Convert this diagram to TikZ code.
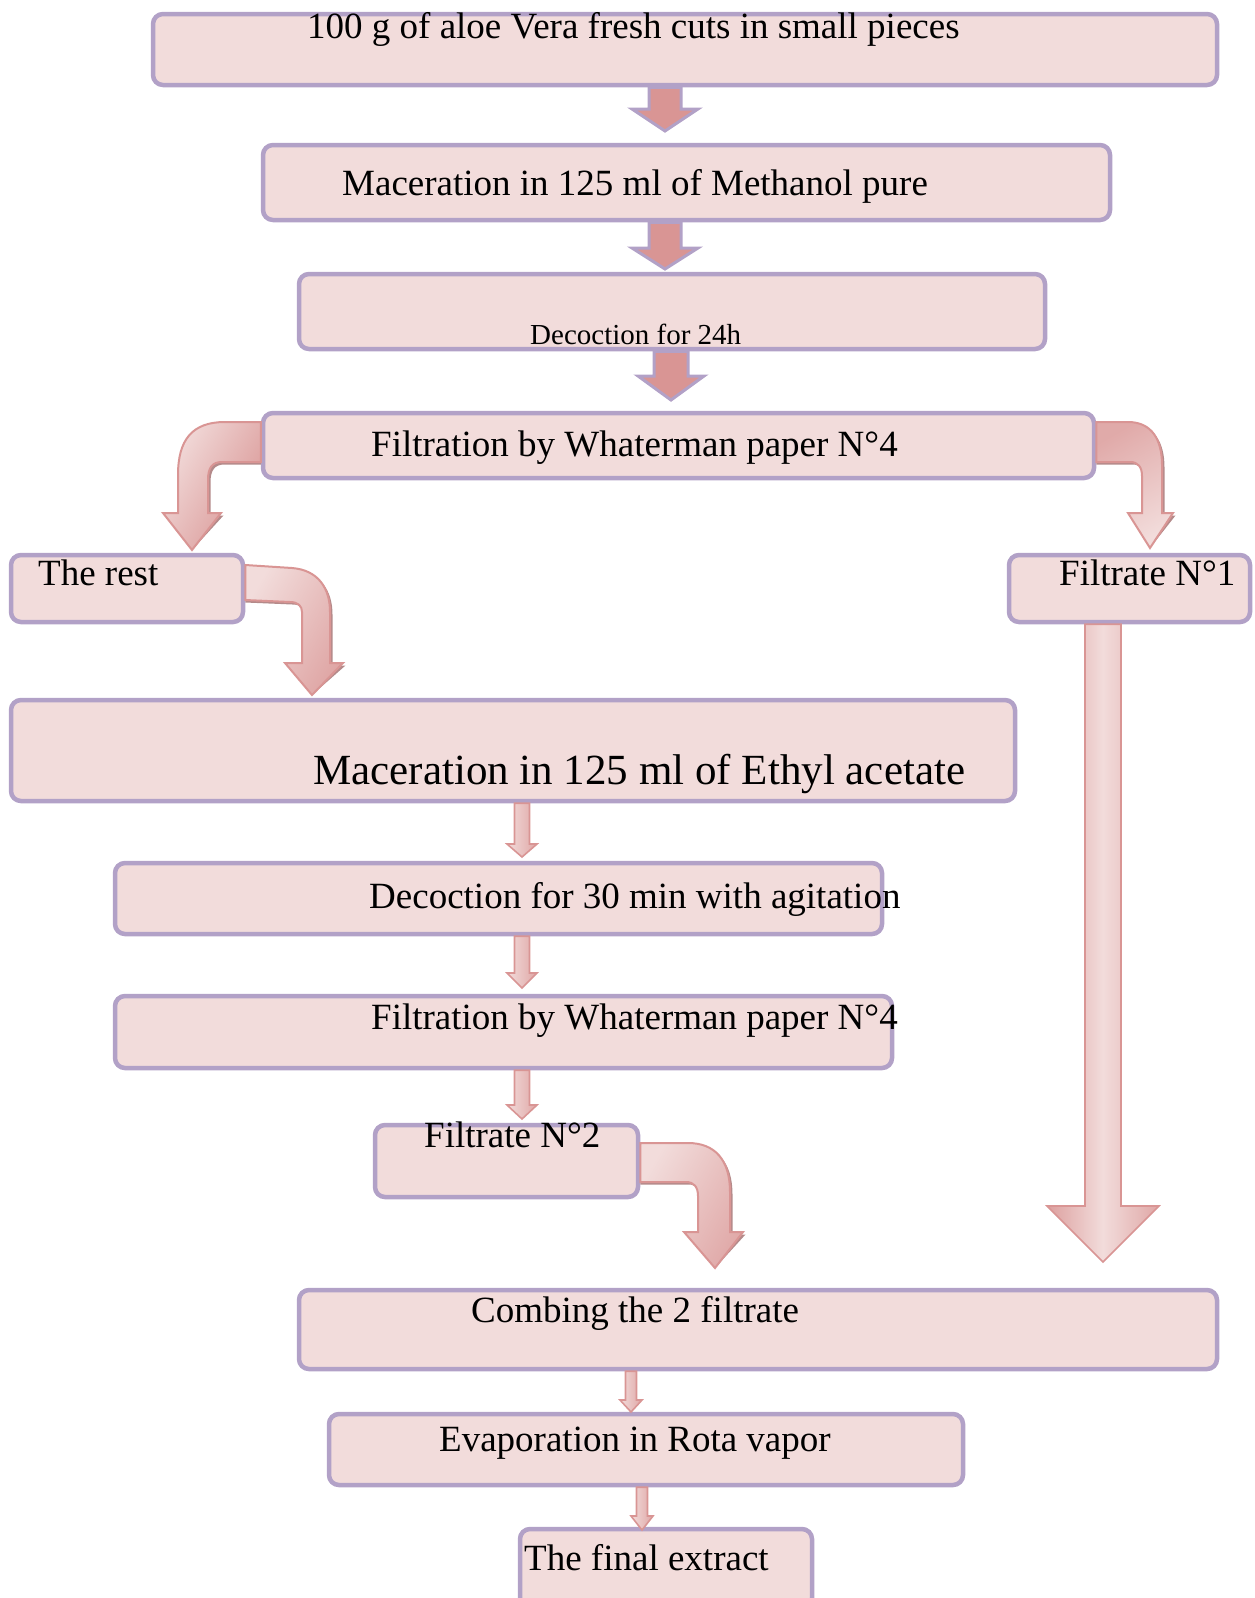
\documentclass[tikz,border=0pt]{standalone}
\usepackage{fontspec}
\setmainfont{Liberation Serif}
\usetikzlibrary{calc}
\definecolor{boxfill}{HTML}{F2DCDB}
\definecolor{boxline}{HTML}{B2A1C7}
\definecolor{arrowdark}{HTML}{D99594}
\definecolor{arrowshadow}{HTML}{B48A8A}
\newcommand\blockarrow[6]{% #1 style, #2 start, #3 tip, #4 shaft half, #5 head half, #6 head length
  \path[#1] let \p1=(#2), \p2=(#3) in
    (\x2-#4pt,\y1) -- (\x2+#4pt,\y1) -- (\x2+#4pt,\y2+#6pt) -- (\x2+#5pt,\y2+#6pt)
    -- (\x2,\y2) -- (\x2-#5pt,\y2+#6pt) -- (\x2-#4pt,\y2+#6pt) -- cycle;}
\newcommand\shadowarrow[6]{%
  \blockarrow{arrowshadow,fill,shift={(2.5,2.5)}}{#2}{#3}{#4}{#5}{#6}%
  \blockarrow{#1}{#2}{#3}{#4}{#5}{#6}}
\begin{document}
\begin{tikzpicture}[x=1pt,y=-1pt,
  box/.style={draw=boxline, fill=boxfill, line width=4.5pt, rounded corners=10pt, inner sep=0pt},
  txt/.style={anchor=base west, inner sep=0pt, font=\fontsize{37}{44}\selectfont},
  darkarrow/.style={fill=arrowdark, draw=boxline, line width=3pt, line join=miter},
  lightarrow/.style={draw=arrowdark, line width=1.6pt, left color=boxfill, right color=arrowdark!75!boxfill},
  bendarrow/.style={draw=arrowdark, line width=2pt},
  longarrow/.style={draw=arrowdark, line width=1.6pt, left color=arrowdark!85!boxfill, right color=arrowdark!75!boxfill, middle color=boxfill},
  shadowfill/.style={fill=arrowshadow}]
\useasboundingbox (0,0) rectangle (1254,1598);
\clip (0,0) rectangle (1254,1598);

% boxes
\node[box, minimum width=1064pt, minimum height=71pt] (b1) at (685,49.5) {};
\node[box, minimum width=847pt, minimum height=75pt] (b2) at (686.5,182.5) {};
\node[box, minimum width=746pt, minimum height=75pt] (b3) at (672,311.5) {};
\node[box, minimum width=831pt, minimum height=65pt] (b4) at (678.5,445.5) {};
\node[box, minimum width=232pt, minimum height=67pt] (rest) at (127,588.5) {};
\node[box, minimum width=241pt, minimum height=67pt] (f1) at (1129.5,588.5) {};
\node[box, minimum width=1004pt, minimum height=101pt] (eth) at (513,750.5) {};
\node[box, minimum width=767pt, minimum height=71pt] (dec) at (498.5,898.5) {};
\node[box, minimum width=777pt, minimum height=72pt] (fil) at (503.5,1032) {};
\node[box, minimum width=263pt, minimum height=72pt] (f2) at (506.5,1161) {};
\node[box, minimum width=918pt, minimum height=79pt] (comb) at (758,1329.5) {};
\node[box, minimum width=634pt, minimum height=71pt] (evap) at (646,1449.5) {};
\node[box, minimum width=292pt, minimum height=79pt] (fin) at (666,1568.5) {};

% texts
\node[txt] (l1) at (307,38) {100 g of aloe Vera fresh cuts in small pieces};
\node[txt] (l2) at (342,195) {Maceration in 125 ml of Methanol pure};
\node[txt, font=\fontsize{29}{34}\selectfont] (l3) at (530,344) {Decoction for 24h};
\node[txt] (l4) at (371,456) {Filtration by Whaterman paper N°4};
\node[txt] (l5) at (38,585) {The rest};
\node[txt] (l6) at (1059,585) {Filtrate N°1};
\node[txt, font=\fontsize{43}{50}\selectfont] (l7) at (313,784) {Maceration in 125 ml of Ethyl acetate};
\node[txt] (l8) at (369,908) {Decoction for 30 min with agitation};
\node[txt] (l9) at (371,1029) {Filtration by Whaterman paper N°4};
\node[txt] (l10) at (424,1147) {Filtrate N°2};
\node[txt] (l11) at (471,1322) {Combing the 2 filtrate};
\node[txt] (l12) at (439,1451) {Evaporation in Rota vapor};
\node[txt] (l13) at (524,1570) {The final extract};

% tip coordinates
\coordinate (t1) at (665,131);
\coordinate (t2) at (665,269);
\coordinate (t3) at (671,400);
\coordinate (t4) at (522,857);
\coordinate (t5) at (522,988);
\coordinate (t6) at (522,1119);
\coordinate (t7) at (631,1412);
\coordinate (t8) at (642,1530);
\coordinate (t9) at (1103,1262);

% straight dark arrows
\blockarrow{darkarrow}{b1.south}{t1}{16}{33}{22}
\blockarrow{darkarrow}{b2.south}{t2}{16}{33}{21}
\blockarrow{darkarrow}{b3.south}{t3}{17}{33}{24}

% small light arrows
\shadowarrow{lightarrow}{eth.south}{t4}{7.5}{15}{13}
\shadowarrow{lightarrow}{dec.south}{t5}{7.5}{15}{15}
\shadowarrow{lightarrow}{fil.south}{t6}{7.5}{15}{14}
\shadowarrow{lightarrow}{comb.south}{t7}{5.5}{11}{12}
\shadowarrow{lightarrow}{evap.south}{t8}{5.5}{11}{14}

% long arrow from Filtrate N1 to combining
\shadowarrow{longarrow}{f1.south}{t9}{18}{56}{56}

% curved arrow: filtration -> the rest
\coordinate (c1) at (b4.west |- 0,422);
\coordinate (c1t) at (192,550);
\fill[shadowfill, shift={(2.5,2.5)}] (c1) -- (225,422) .. controls (192,422) and (178,440) .. (178,475) -- (178,513) -- (163,513) -- (c1t) -- (221,513) -- (208,513) -- (208,480) .. controls (208,468) and (212,462) .. (222,462) -- (b4.west |- 0,462) -- cycle;
\path[bendarrow, left color=boxfill, right color=arrowdark, shading angle=60] (c1) -- (225,422) .. controls (192,422) and (178,440) .. (178,475) -- (178,513) -- (163,513) -- (c1t) -- (221,513) -- (208,513) -- (208,480) .. controls (208,468) and (212,462) .. (222,462) -- (b4.west |- 0,462) -- cycle;

% curved arrow: filtration -> filtrate N1
\coordinate (c2) at (b4.east |- 0,422);
\coordinate (c2t) at (1150,548);
\fill[shadowfill, shift={(2.5,2.5)}] (c2) -- (1128,422) .. controls (1152,422) and (1162,440) .. (1162,465) -- (1162,513) -- (1173,513) -- (c2t) -- (1128,513) -- (1142,513) -- (1142,476) .. controls (1142,467) and (1138,462) .. (1130,462) -- (b4.east |- 0,462) -- cycle;
\path[bendarrow, left color=arrowdark!70!boxfill, right color=boxfill, shading angle=30] (c2) -- (1128,422) .. controls (1152,422) and (1162,440) .. (1162,465) -- (1162,513) -- (1173,513) -- (c2t) -- (1128,513) -- (1142,513) -- (1142,476) .. controls (1142,467) and (1138,462) .. (1130,462) -- (b4.east |- 0,462) -- cycle;

% curved arrow: the rest -> maceration ethyl acetate
\coordinate (c3) at (rest.east |- 0,565);
\coordinate (c3t) at (312,695);
\fill[shadowfill, shift={(2.5,2.5)}] (c3) -- (292,568) .. controls (318,570) and (330,588) .. (330,612) -- (330,663) -- (343,663) -- (c3t) -- (285,663) -- (302,663) -- (302,612) .. controls (302,606) and (298,602) .. (290,602) -- (rest.east |- 0,600) -- cycle;
\path[bendarrow, left color=boxfill, right color=arrowdark!75!boxfill, shading angle=60] (c3) -- (292,568) .. controls (318,570) and (330,588) .. (330,612) -- (330,663) -- (343,663) -- (c3t) -- (285,663) -- (302,663) -- (302,612) .. controls (302,606) and (298,602) .. (290,602) -- (rest.east |- 0,600) -- cycle;

% curved arrow: filtrate N2 -> combining
\coordinate (c4) at (f2.east |- 0,1143);
\coordinate (c4t) at (715,1268);
\fill[shadowfill, shift={(2.5,2.5)}] (c4) -- (688,1143) .. controls (715,1143) and (730,1160) .. (730,1192) -- (730,1232) -- (743,1232) -- (c4t) -- (684,1232) -- (698,1232) -- (698,1196) .. controls (698,1187) and (694,1182) .. (686,1182) -- (f2.east |- 0,1182) -- cycle;
\path[bendarrow, left color=boxfill, right color=arrowdark!70!boxfill, shading angle=60] (c4) -- (688,1143) .. controls (715,1143) and (730,1160) .. (730,1192) -- (730,1232) -- (743,1232) -- (c4t) -- (684,1232) -- (698,1232) -- (698,1196) .. controls (698,1187) and (694,1182) .. (686,1182) -- (f2.east |- 0,1182) -- cycle;
\end{tikzpicture}
\end{document}
